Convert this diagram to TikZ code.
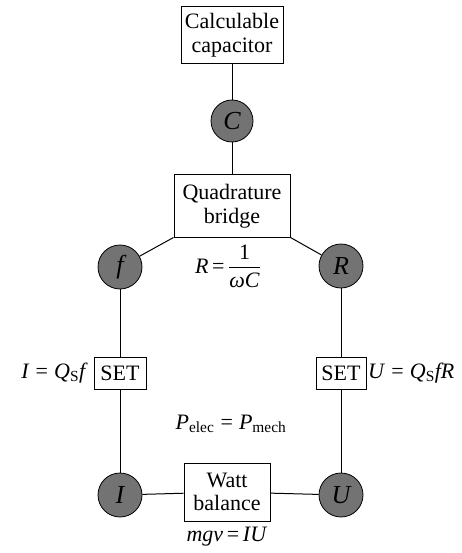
\documentclass[tikz,border=0pt]{standalone}
\usepackage{amsmath}
\usepackage{fontspec}
\setmainfont{Liberation Serif}
\begin{document}
\begin{tikzpicture}[x=1pt,y=-1pt,
  every node/.style={font=\fontsize{22}{23.5}\selectfont},
  box/.style={draw=black,line width=1pt,align=center,inner sep=0pt},
  qty/.style={circle,draw=black,line width=0.8pt,fill=black!55,minimum size=44pt,inner sep=0pt,font=\fontsize{26}{26}\selectfont\itshape},
  lbl/.style={inner sep=0pt},
  conn/.style={line width=1pt}]
\useasboundingbox (0,0) rectangle (461,553);
% boxes
\node[box,minimum width=102pt,minimum height=57pt] (cap) at (232,35) {Calculable\\capacitor};
\node[box,minimum width=116pt,minimum height=62pt] (qb) at (232,206) {Quadrature\\bridge};
\node[box,minimum width=52pt,minimum height=32pt] (setl) at (120,373) {SET};
\node[box,minimum width=50pt,minimum height=32pt] (setr) at (341,373) {SET};
\node[box,minimum width=86pt,minimum height=58pt] (wb) at (227,492) {Watt\\balance};
% quantity circles
\node[qty,minimum size=42pt] (c) at (232,121) {C};
\node[qty] (f) at (120,267) {f};
\node[qty] (r) at (341,266) {R};
\node[qty] (i) at (120,495) {I};
\node[qty] (u) at (341,495) {U};
% connectors
\draw[conn] (cap) -- (c);
\draw[conn] (c) -- (qb);
\draw[conn] (qb.south west) -- (f);
\draw[conn] (qb.south east) -- (r);
\draw[conn] (f) -- (setl);
\draw[conn] (setl) -- (i);
\draw[conn] (r) -- (setr);
\draw[conn] (setr) -- (u);
\draw[conn] (i) -- (wb);
\draw[conn] (wb) -- (u);
% labels
\node[lbl] (eqr) at (228,266) {\textit{R}\,=\,$\dfrac{\text{1}}{\text{\textit{ωC}}}$};
\node[lbl,anchor=east] (eqi) at (88,373) {\textit{I}\;=\;\textit{Q}\textsubscript{S}\textit{f}};
\node[lbl,anchor=west] (equ) at (368,373) {\textit{U}\;=\;\textit{Q}\textsubscript{S}\textit{fR}};
\node[lbl] (eqp) at (231,424) {\textit{P}\textsubscript{elec}\;=\;\textit{P}\textsubscript{mech}};
\node[lbl] (eqm) at (227,537) {\textit{mgv}\,=\,\textit{IU}};
\end{tikzpicture}
\end{document}
